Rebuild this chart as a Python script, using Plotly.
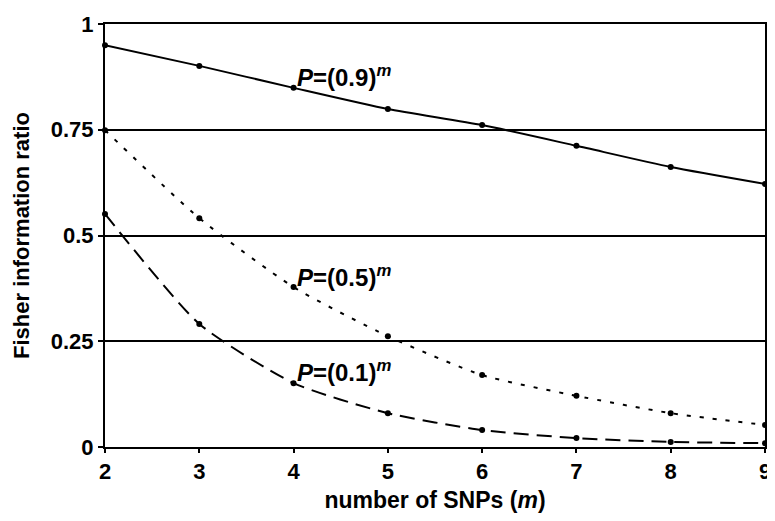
import plotly.graph_objects as go

snps = [2, 3, 4, 5, 6, 7, 8, 9]
p09 = [0.950, 0.901, 0.849, 0.799, 0.761, 0.712, 0.662, 0.622]
p05 = [0.749, 0.541, 0.378, 0.262, 0.170, 0.121, 0.080, 0.052]
p01 = [0.551, 0.291, 0.151, 0.080, 0.040, 0.021, 0.012, 0.009]
y_ticks = [0, 0.25, 0.5, 0.75, 1]
y_tick_labels = ["0", "0.25", "0.5", "0.75", "1"]
x_ticks = [2, 3, 4, 5, 6, 7, 8, 9]

FONT = "Liberation Sans, Arial, Helvetica, sans-serif"

fig = go.Figure()
series = [
    (p09, "solid"),
    (p05, "4px,9px"),
    (p01, "15px,8px"),
]
for vals, dash in series:
    fig.add_trace(go.Scatter(
        x=snps, y=vals, mode="lines+markers",
        line=dict(color="black", width=2, dash=dash, shape="spline", smoothing=0.6),
        marker=dict(color="black", size=6),
        cliponaxis=False, showlegend=False,
    ))

labels = [
    (4.02, 0.878, "<b><i>P</i>=(0.9)<sup><i>m</i></sup></b>"),
    (4.02, 0.405, "<b><i>P</i>=(0.5)<sup><i>m</i></sup></b>"),
    (4.02, 0.180, "<b><i>P</i>=(0.1)<sup><i>m</i></sup></b>"),
]
for x, y, t in labels:
    fig.add_annotation(x=x, y=y, text=t, showarrow=False, xanchor="left", yanchor="middle",
                       font=dict(family=FONT, size=24, color="black"))

# page body has an 8px margin, so the figure is drawn at (8, 8)
fig.update_layout(
    width=759, height=505,
    margin=dict(l=97, r=2, t=16, b=66),
    paper_bgcolor="white", plot_bgcolor="white",
    font=dict(family=FONT, color="black"),
)
fig.update_xaxes(
    range=[2, 9], tickvals=x_ticks, ticks="outside", ticklen=4, tickwidth=2, tickcolor="black",
    showline=True, linecolor="black", linewidth=2, mirror=True, showgrid=False, zeroline=False,
    automargin=False, ticklabelstandoff=0, ticklabeloverflow="allow",
    tickfont=dict(family=FONT, size=22, color="black", weight="bold"),
    title=dict(text="<b>number of SNPs (<i>m</i>)</b>", font=dict(family=FONT, size=23, color="black"), standoff=8),
)
fig.update_yaxes(
    range=[0, 1], tickvals=y_ticks, ticktext=y_tick_labels, ticks="outside", ticklen=5, tickwidth=2,
    tickcolor="black", showline=True, linecolor="black", linewidth=2, mirror=True,
    showgrid=True, gridcolor="black", gridwidth=2, zeroline=False,
    automargin=False, ticklabelstandoff=0,
    tickfont=dict(family=FONT, size=22, color="black", weight="bold"),
    title=dict(text="<b>Fisher information ratio</b>", font=dict(family=FONT, size=22, color="black"), standoff=15),
)

fig.write_html("out.html")
